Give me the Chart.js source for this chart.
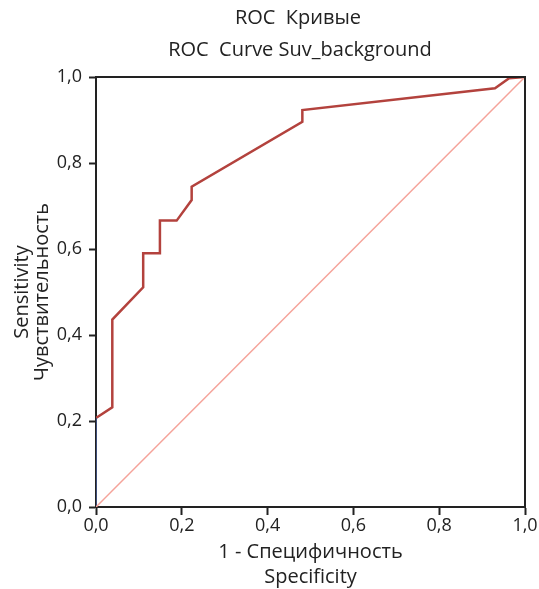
<!DOCTYPE html>
<html>
<head>
<meta charset="utf-8">
<script src="https://cdn.jsdelivr.net/npm/chart.js@4/dist/chart.umd.min.js"></script>
<style>
  html, body { margin: 0; padding: 0; background: #fff; }
  #wrap { width: 539px; height: 589px; }
</style>
</head>
<body>
<div id="wrap"><canvas id="myChart" width="539" height="589"></canvas></div>
<script>
// ROC curve points (1 - specificity, sensitivity)
const fprValues = [0, 0.038, 0.038, 0.110, 0.110, 0.149, 0.149, 0.188, 0.223, 0.223, 0.481, 0.481, 0.930, 0.963, 1.0];
const tprValues = [0.207, 0.232, 0.436, 0.511, 0.590, 0.590, 0.666, 0.666, 0.714, 0.745, 0.896, 0.923, 0.974, 0.997, 1.0];

// short blue piece at the start of the curve
const startFpr = [0, 0];
const startTpr = [0, 0.207];

// reference (chance) line
const refFpr = [0, 1];
const refTpr = [0, 1];

const tickValues = [0, 0.2, 0.4, 0.6, 0.8, 1.0];
const titleLines = ['ROC  Кривые', 'ROC  Curve Suv_background'];
const xTitle = ['1 - Специфичность', 'Specificity'];
const yTitle = ['Sensitivity', 'Чувствительность'];

const fontFamily = '"Open Sans", "Noto Sans", sans-serif';

function toPoints(xs, ys) {
    return xs.map(function (x, i) { return { x: x, y: ys[i] }; });
}

function fmt(v) {
    return Number(v).toFixed(1).replace('.', ','); // comma decimals like the original
}

// titles and the box round the plot
const framePlugin = {
    id: 'frame',
    afterDraw: function (chart) {
        const ctx = chart.ctx;
        const a = chart.chartArea;
        ctx.save();
        ctx.strokeStyle = '#222';
        ctx.lineWidth = 2;
        ctx.beginPath();
        ctx.moveTo(a.left, a.top);
        ctx.lineTo(a.right, a.top);
        ctx.lineTo(a.right, a.bottom);
        ctx.stroke();

        ctx.fillStyle = '#222';
        ctx.font = '20px ' + fontFamily;
        ctx.textAlign = 'center';
        ctx.textBaseline = 'middle';
        ctx.fillText(titleLines[0], 298, 18);
        ctx.fillText(titleLines[1], 300, 50);
        ctx.restore();
    }
};

const ctx = document.getElementById('myChart').getContext('2d');
const chart = new Chart(ctx, {
    type: 'scatter',
    data: {
        datasets: [{
            data: toPoints(refFpr, refTpr),
            showLine: true,
            borderColor: '#f5a39a',
            borderWidth: 1.5,
            pointRadius: 0
        }, {
            data: toPoints(startFpr, startTpr),
            showLine: true,
            borderColor: '#3d4d7a',
            borderWidth: 2,
            pointRadius: 0
        }, {
            data: toPoints(fprValues, tprValues),
            showLine: true,
            borderColor: '#b3423d',
            borderWidth: 2.5,
            pointRadius: 0,
            tension: 0
        }]
    },
    options: {
        responsive: false,
        animation: false,
        layout: { padding: { left: 0, right: 14, top: 77, bottom: 0 } },
        plugins: {
            legend: { display: false },
            tooltip: { enabled: false }
        },
        scales: {
            x: {
                type: 'linear',
                min: 0,
                max: 1,
                afterFit: function (scale) { scale.height = 82; },
                afterBuildTicks: function (scale) {
                    scale.ticks = tickValues.map(function (v) { return { value: v }; });
                },
                ticks: {
                    color: '#222',
                    font: { family: fontFamily, size: 18 },
                    padding: 0,
                    maxRotation: 0,
                    callback: fmt
                },
                grid: {
                    drawOnChartArea: false,
                    tickLength: 8,
                    tickWidth: 2,
                    tickColor: '#222'
                },
                border: { color: '#222', width: 2 },
                title: {
                    display: true,
                    text: xTitle,
                    color: '#222',
                    font: { family: fontFamily, size: 20, lineHeight: 25 / 20 },
                    padding: { top: 0, bottom: -1 }
                }
            },
            y: {
                type: 'linear',
                min: 0,
                max: 1,
                afterFit: function (scale) { scale.width = 96; },
                afterBuildTicks: function (scale) {
                    scale.ticks = tickValues.map(function (v) { return { value: v }; });
                },
                ticks: {
                    color: '#222',
                    font: { family: fontFamily, size: 18 },
                    padding: 7,
                    callback: fmt
                },
                grid: {
                    drawOnChartArea: false,
                    tickLength: 7,
                    tickWidth: 2,
                    tickColor: '#222'
                },
                border: { color: '#222', width: 2 },
                title: {
                    display: true,
                    text: yTitle,
                    color: '#222',
                    font: { family: fontFamily, size: 20, lineHeight: 1 },
                    padding: { top: 12, bottom: 0 }
                }
            }
        }
    },
    plugins: [framePlugin]
});
</script>
</body>
</html>
